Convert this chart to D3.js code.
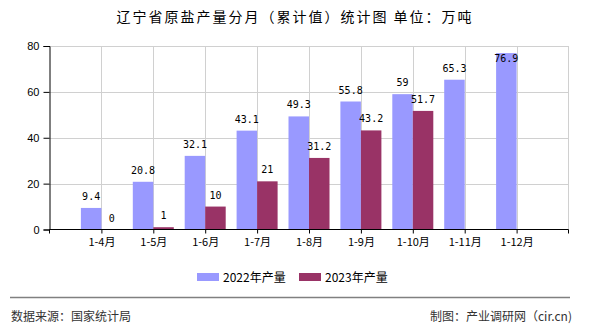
<!DOCTYPE html>
<html><head><meta charset="utf-8">
<script src="https://cdn.jsdelivr.net/npm/d3@7"></script>
<style>body{margin:0;background:#fff}svg{display:block}</style>
</head><body>
<svg id="c" width="590" height="330"></svg>
<script>
const categories = ["1-4月","1-5月","1-6月","1-7月","1-8月","1-9月","1-10月","1-11月","1-12月"];
const values2022 = [9.4,20.8,32.1,43.1,49.3,55.8,59,65.3,76.9];
const values2023 = [0,1,10,21,31.2,43.2,51.7,null,null];
const seriesNames = ["2022年产量","2023年产量"];
const yTicks = [0,20,40,60,80];
const title = "辽宁省原盐产量分月（累计值）统计图 单位：万吨";
const source = "数据来源：国家统计局";
const maker = "制图：产业调研网（cir.cn)";

const colors = ["#9999FF","#993366"];
const svg = d3.select("#c");
const L=49.5, R=568.5, T=46, B=229.5;
const x = d3.scalePoint().domain(categories).range([L,R]).padding(1);
const y = d3.scaleLinear().domain([0,80]).range([B,T]);
const bw = 20.5;
const cjk = "'Noto Sans CJK SC','Noto Sans',sans-serif";
const mono = "'DejaVu Sans Mono','Liberation Mono',monospace";

// title
svg.append("text").attr("x",295).attr("y",22).attr("text-anchor","middle")
  .attr("font-family",cjk).attr("font-size",14).attr("letter-spacing",2).attr("fill","#000").text(title);

// grid
const g = svg.append("g");
g.selectAll("line.h").data(yTicks.filter(d=>d>0)).join("line")
  .attr("x1",L).attr("x2",R).attr("y1",d=>Math.round(y(d))+0.5).attr("y2",d=>Math.round(y(d))+0.5)
  .attr("stroke","#d0d0d0");
g.selectAll("line.v").data(categories).join("line")
  .attr("x1",d=>Math.round(x(d))+0.5).attr("x2",d=>Math.round(x(d))+0.5).attr("y1",T).attr("y2",B)
  .attr("stroke","#d0d0d0");
g.append("line").attr("x1",R).attr("x2",R).attr("y1",T).attr("y2",B).attr("stroke","#d0d0d0");

// bars
const data = categories.map((c,i)=>({c,v:[values2022[i],values2023[i]]}));
[0,1].forEach(s=>{
  const vals = data.filter(d=>d.v[s]!=null);
  svg.append("g").selectAll("rect").data(vals).join("rect")
    .attr("x",d=>s===0? x(d.c)-bw : x(d.c))
    .attr("y",d=>y(d.v[s])).attr("width",bw).attr("height",d=>B-y(d.v[s]))
    .attr("fill",colors[s]);
  svg.append("g").selectAll("text").data(vals).join("text")
    .attr("x",d=>(s===0? x(d.c)-bw/2 : x(d.c)+bw/2))
    .attr("y",d=>{let b=y(d.v[s])-8; if(b-8<T) b=y(d.v[s])+9; return b;})
    .attr("text-anchor","middle").attr("font-family",mono).attr("font-size",10).attr("fill","#000")
    .text(d=>d.v[s]);
});

// axes
const ya = svg.append("g").attr("transform",`translate(${L},0)`)
  .call(d3.axisLeft(y).tickValues(yTicks).tickSize(6).tickPadding(4).tickFormat(d3.format("d")));
ya.select(".domain").attr("stroke","#000");
ya.selectAll(".tick line").attr("stroke","#000");
ya.selectAll("text").attr("font-family","'Liberation Sans',Arial,sans-serif").attr("font-size",11).attr("fill","#000");

const xa = svg.append("g").attr("transform",`translate(0,${B})`)
  .call(d3.axisBottom(x).tickSize(4).tickPadding(5).tickSizeOuter(4));
xa.select(".domain").attr("stroke","#000").attr("d",`M${L},4V0H${R}V4`);
xa.selectAll(".tick line").attr("stroke","#000");
xa.selectAll("text").attr("font-family",cjk).attr("font-size",11).attr("fill","#000");

// legend
const leg = svg.append("g");
const lx=[197,299];
seriesNames.forEach((n,i)=>{
  leg.append("rect").attr("x",lx[i]).attr("y",273).attr("width",22).attr("height",8).attr("fill",colors[i]);
  leg.append("text").attr("x",lx[i]+26).attr("y",282).attr("font-family",cjk).attr("font-size",12).attr("fill","#000").text(n);
});

// footer
svg.append("line").attr("x1",10).attr("x2",570).attr("y1",297.5).attr("y2",297.5).attr("stroke","#808080").attr("stroke-width",1.5);
svg.append("text").attr("x",11).attr("y",321).attr("font-family",cjk).attr("font-size",12).attr("fill","#333").text(source);
svg.append("text").attr("x",572).attr("y",321).attr("text-anchor","end").attr("font-family",cjk).attr("font-size",12).attr("fill","#333").text(maker);
</script>
</body></html>
